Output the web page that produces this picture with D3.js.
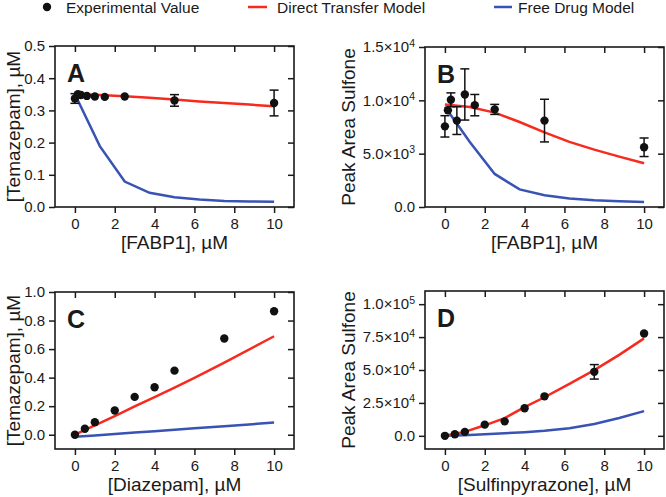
<!DOCTYPE html>
<meta charset="utf-8">
<script src="https://cdn.jsdelivr.net/npm/d3@7"></script>
<style>
body { margin: 0; background: #fff; }
svg { font-family: "Liberation Sans", Arial, sans-serif; display: block; }
.tick text { font-size: 15px; fill: #1a1a1a; }
.tick line { stroke: #1a1a1a; stroke-width: 1.5px; }
.domain { stroke: none; }
.frame { fill: none; stroke: #1a1a1a; stroke-width: 1.6px; }
.title { font-size: 19px; fill: #1a1a1a; }
.letter { font-size: 25px; font-weight: bold; fill: #1a1a1a; }
</style>
<body>
<script>

var width = 666
var height = 497
var red = "#f72a1e"
var blue = "#3853b3"

// shared concentrations for the FABP1 titrations
var fabpX = [0, 0.15, 0.3, 0.6, 1, 1.5, 2.5, 5, 10]
var modelX = [0, 1.25, 2.5, 3.75, 5, 6.25, 7.5, 8.75, 10]

// panel A
var aExp = [0.337, 0.35, 0.348, 0.345, 0.343, 0.342, 0.343, 0.331, 0.323]
var aErr = [0.015, 0.004, 0.004, 0.005, 0.006, 0.007, 0.008, 0.018, 0.04]
var aDirect = [0.35, 0.348, 0.344, 0.339, 0.334, 0.328, 0.323, 0.318, 0.313]
var aFree = [0.35, 0.189, 0.079, 0.044, 0.03, 0.023, 0.019, 0.017, 0.016]

// panel B
var bExp = [7560, 9060, 10050, 8100, 10550, 9550, 9150, 8100, 5600]
var bErr = [1000, 300, 650, 1300, 2400, 1000, 470, 2000, 870]
var bDirect = [9600, 9380, 8850, 7970, 7000, 6100, 5380, 4720, 4100]
var bFree = [9400, 6100, 3100, 1650, 1100, 800, 630, 550, 470]

// panel C
var cX = [0, 0.5, 1, 2, 3, 4, 5, 7.5, 10]
var cExp = [0, 0.042, 0.088, 0.17, 0.265, 0.333, 0.449, 0.674, 0.865]
var cErr = [0.005, 0.006, 0.008, 0.025, 0.015, 0.008, 0.006, 0.012, 0.012]
var cModelX = [0, 1, 2, 3, 4, 5, 6, 7.5, 10]
var cDirect = [0, 0.065, 0.13, 0.198, 0.264, 0.33, 0.398, 0.505, 0.69]
var cFree = [-0.015, -0.005, 0.005, 0.015, 0.025, 0.035, 0.045, 0.06, 0.085]

// panel D
var dX = [0, 0.5, 1, 2, 3, 4, 5, 7.5, 10]
var dExp = [0, 1200, 3000, 8500, 11000, 21000, 30000, 48600, 77700]
var dErr = [500, 500, 600, 800, 1200, 1200, 1500, 5500, 1500]
var dModelX = [0, 1, 2, 3, 4, 5, 6.25, 7.5, 8.75, 10]
var dDirect = [0, 3000, 8000, 13500, 21800, 29300, 39500, 49900, 61500, 74000]
var dFree = [0, 500, 1200, 2000, 2800, 3800, 5800, 9000, 13500, 18800]

var svg = d3.select("body").append("svg")
            .attr("width", width)
            .attr("height", height)

// legend
var legend = svg.append("g").style("font-size", "15.5px").style("fill", "#1a1a1a")
legend.append("circle").attr("cx", 47).attr("cy", 7).attr("r", 4.2).style("fill", "#111")
legend.append("text").attr("x", 66).attr("y", 12.5).text("Experimental Value")
legend.append("line").attr("x1", 248).attr("x2", 267).attr("y1", 7).attr("y2", 7)
      .style("stroke", red).style("stroke-width", 2.5)
legend.append("text").attr("x", 277).attr("y", 12.5).text("Direct Transfer Model")
legend.append("line").attr("x1", 494).attr("x2", 512).attr("y1", 7).attr("y2", 7)
      .style("stroke", blue).style("stroke-width", 2.5)
legend.append("text").attr("x", 518).attr("y", 12.5).text("Free Drug Model")

// "1.5×10^4" -> text with a superscript tspan
function superscript(sel) {
  sel.selectAll(".tick text").each(function() {
    var t = d3.select(this)
    var parts = t.text().split("^")
    if (parts.length < 2) return
    t.text(parts[0])
    t.append("tspan").attr("dy", "-0.55em").style("font-size", "10.5px").text(parts[1])
  })
}

function sciFormat(d) {
  if (d === 0) return "0.0"
  var e = Math.floor(Math.log10(d))
  return (d / Math.pow(10, e)).toFixed(1) + "×10^" + e
}

var blank = function() { return "" }

function panel(p) {
  var x = d3.scaleLinear().domain([-1, 11]).range([p.left, p.right])
  var y = d3.scaleLinear().domain(p.yDomain).range([p.bottom, p.top])
  var g = svg.append("g")

  var xTicks = [0, 2, 4, 6, 8, 10]

  // outward ticks with labels on bottom/left, inward bare ticks on top/right
  g.append("g").attr("transform", "translate(0," + p.bottom + ")")
   .call(d3.axisBottom(x).tickValues(xTicks).tickSize(6).tickPadding(5))
  g.append("g").attr("transform", "translate(0," + p.top + ")")
   .call(d3.axisBottom(x).tickValues(xTicks).tickSize(6).tickFormat(blank))
  g.append("g").attr("transform", "translate(" + p.left + ",0)")
   .call(d3.axisLeft(y).tickValues(p.yTicks).tickSize(6).tickPadding(4).tickFormat(p.yFormat))
   .call(superscript)
  g.append("g").attr("transform", "translate(" + p.right + ",0)")
   .call(d3.axisLeft(y).tickValues(p.yTicks).tickSize(6).tickFormat(blank))

  g.append("rect").attr("class", "frame")
   .attr("x", p.left).attr("y", p.top)
   .attr("width", p.right - p.left).attr("height", p.bottom - p.top)

  var line = d3.line().x(function(d) { return x(d[0]) }).y(function(d) { return y(d[1]) })
  g.append("path").attr("d", line(d3.zip(p.modelX, p.free)))
   .style("fill", "none").style("stroke", blue).style("stroke-width", 2.5)
  g.append("path").attr("d", line(d3.zip(p.modelX, p.direct)))
   .style("fill", "none").style("stroke", red).style("stroke-width", 2.5)

  var pts = d3.zip(p.expX, p.exp, p.err)
  var bars = g.append("g").style("stroke", "#111").style("stroke-width", 1.5)
  pts.forEach(function(d) {
    var lo = y(d[1] - d[2]), hi = y(d[1] + d[2]), cx = x(d[0])
    if (lo - hi < 9) return
    bars.append("line").attr("x1", cx).attr("x2", cx).attr("y1", lo).attr("y2", hi)
    bars.append("line").attr("x1", cx - 4.5).attr("x2", cx + 4.5).attr("y1", lo).attr("y2", lo)
    bars.append("line").attr("x1", cx - 4.5).attr("x2", cx + 4.5).attr("y1", hi).attr("y2", hi)
  })
  g.selectAll(".pt").data(pts).enter().append("circle")
   .attr("cx", function(d) { return x(d[0]) })
   .attr("cy", function(d) { return y(d[1]) })
   .attr("r", 4.2)
   .style("fill", "#111")

  g.append("text").attr("class", "letter").attr("x", p.left + 12).attr("y", p.top + 36).text(p.letter)

  g.append("text").attr("class", "title")
   .attr("x", (p.left + p.right) / 2).attr("y", p.bottom + 42)
   .style("text-anchor", "middle").text(p.xTitle)
  g.append("text").attr("class", "title")
   .attr("transform", "translate(" + p.yTitleX + "," + ((p.top + p.bottom) / 2) + ") rotate(-90)")
   .style("text-anchor", "middle").text(p.yTitle)
}

panel({ left: 55, right: 294, top: 46, bottom: 207, letter: "A",
        yDomain: [0, 0.5], yTicks: [0, 0.1, 0.2, 0.3, 0.4, 0.5], yFormat: d3.format(".1f"),
        expX: fabpX, exp: aExp, err: aErr, modelX: modelX, direct: aDirect, free: aFree,
        xTitle: "[FABP1], µM", yTitle: "[Temazepam], µM", yTitleX: 20 })

panel({ left: 425, right: 664, top: 47, bottom: 207, letter: "B",
        yDomain: [0, 15000], yTicks: [0, 5000, 10000, 15000], yFormat: sciFormat,
        expX: fabpX, exp: bExp, err: bErr, modelX: modelX, direct: bDirect, free: bFree,
        xTitle: "[FABP1], µM", yTitle: "Peak Area Sulfone", yTitleX: 355 })

panel({ left: 55, right: 294, top: 292, bottom: 449, letter: "C",
        yDomain: [-0.1, 1.0], yTicks: [0, 0.2, 0.4, 0.6, 0.8, 1.0], yFormat: d3.format(".1f"),
        expX: cX, exp: cExp, err: cErr, modelX: cModelX, direct: cDirect, free: cFree,
        xTitle: "[Diazepam], µM", yTitle: "[Temazepam], µM", yTitleX: 20 })

panel({ left: 425, right: 664, top: 291, bottom: 449, letter: "D",
        yDomain: [-10000, 110000], yTicks: [0, 25000, 50000, 75000, 100000], yFormat: sciFormat,
        expX: dX, exp: dExp, err: dErr, modelX: dModelX, direct: dDirect, free: dFree,
        xTitle: "[Sulfinpyrazone], µM", yTitle: "Peak Area Sulfone", yTitleX: 355 })

</script>
</body>
